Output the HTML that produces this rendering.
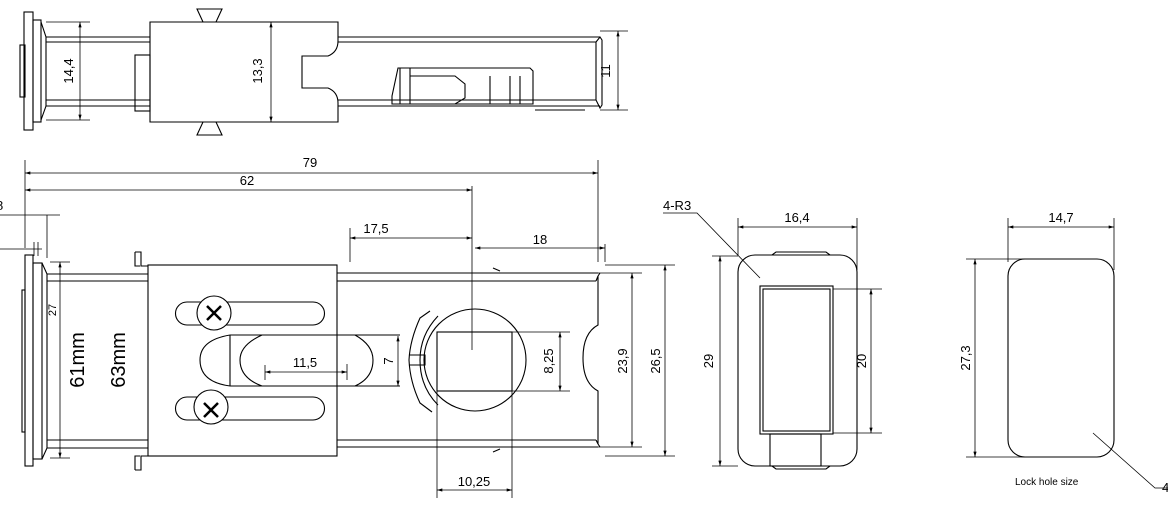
<!DOCTYPE html>
<html><head><meta charset="utf-8"><style>
html,body{margin:0;padding:0;background:#fff}
svg{display:block}
text{font-family:"Liberation Sans",sans-serif;fill:#000}
</style></head><body>
<svg width="1168" height="528" viewBox="0 0 1168 528" xmlns="http://www.w3.org/2000/svg">
<defs>
<marker id="a" viewBox="0 0 10 6" refX="10" refY="3" markerWidth="8" markerHeight="4" orient="auto-start-reverse"><path d="M0,0L10,3L0,6z" fill="#000"/></marker>
</defs>
<g fill="none" stroke="#000" stroke-width="1.1">
<!-- TOP VIEW -->
<rect x="24" y="12" width="9" height="118"/>
<rect x="33" y="20" width="8" height="102"/>
<rect x="20" y="45" width="5" height="52"/>
<path d="M41,22 L46,37 L46,106 L41,120"/>
<line x1="46" y1="37" x2="150" y2="37"/><line x1="46" y1="42" x2="150" y2="42"/>
<line x1="46" y1="100" x2="150" y2="100"/><line x1="46" y1="106" x2="150" y2="106"/>
<rect x="135" y="55" width="15" height="56"/>
<path d="M150,22 H338 V41 Q338,52 328,56 H302 V88 H328 Q338,92 338,103 V122 H150 Z"/>
<path d="M197,9 H222 L216,22 H203 Z"/><path d="M203,122 H216 L222,135 H197 Z"/>
<line x1="338" y1="37" x2="600" y2="37"/><line x1="338" y1="42" x2="596" y2="42"/>
<line x1="338" y1="106" x2="600" y2="106"/><line x1="338" y1="100" x2="596" y2="100"/>
<path d="M596,42 L600,37 L602,40 V105 L600,108 L596,100 Z"/>
<path d="M392,96 L398,68 H530 L533,71 V104 H392 Z"/>
<path d="M400,68 V104 M410,68 V104 M410,76 H455 L465,84 V98 L455,104"/>
<path d="M490,76 V104 M510,76 V104 M520,76 V104"/>
<line x1="535" y1="110" x2="585" y2="110"/>
<!-- top dims -->
<line x1="46" y1="22" x2="90" y2="22" stroke-width=".8"/><line x1="46" y1="120" x2="90" y2="120" stroke-width=".8"/>
<line x1="80" y1="22" x2="80" y2="120" marker-start="url(#a)" marker-end="url(#a)" stroke-width=".8"/>
<line x1="271" y1="22" x2="271" y2="122" marker-start="url(#a)" marker-end="url(#a)" stroke-width=".8"/>
<line x1="600" y1="31" x2="628" y2="31" stroke-width=".8"/><line x1="600" y1="110" x2="628" y2="110" stroke-width=".8"/>
<line x1="618" y1="31" x2="618" y2="110" marker-start="url(#a)" marker-end="url(#a)" stroke-width=".8"/>

<!-- MAIN VIEW dims -->
<g stroke-width=".8">
<line x1="25" y1="160" x2="25" y2="248"/>
<line x1="598" y1="160" x2="598" y2="262"/>
<line x1="472" y1="186" x2="472" y2="350"/>
<line x1="605" y1="244" x2="605" y2="262"/>
<line x1="47" y1="215" x2="47" y2="258"/>
<line x1="350" y1="228" x2="350" y2="262"/>
<line x1="25" y1="173" x2="598" y2="173" marker-start="url(#a)" marker-end="url(#a)"/>
<line x1="25" y1="190" x2="472" y2="190" marker-start="url(#a)" marker-end="url(#a)"/>
<line x1="0" y1="215" x2="60" y2="215"/>
<line x1="350" y1="238" x2="472" y2="238" marker-start="url(#a)" marker-end="url(#a)"/>
<line x1="475" y1="248" x2="605" y2="248" marker-start="url(#a)" marker-end="url(#a)"/>
<line x1="0" y1="249" x2="42" y2="249"/>
<line x1="34" y1="242" x2="34" y2="256"/><line x1="38" y1="242" x2="38" y2="256"/>
<line x1="605" y1="265" x2="675" y2="265"/><line x1="605" y1="456" x2="675" y2="456"/>
<line x1="598" y1="273" x2="642" y2="273"/><line x1="598" y1="447" x2="642" y2="447"/>
<line x1="665" y1="265" x2="665" y2="456" marker-start="url(#a)" marker-end="url(#a)"/>
<line x1="632" y1="273" x2="632" y2="447" marker-start="url(#a)" marker-end="url(#a)"/>
<line x1="437" y1="332" x2="570" y2="332"/><line x1="437" y1="391" x2="570" y2="391"/>
<line x1="560" y1="332" x2="560" y2="391" marker-start="url(#a)" marker-end="url(#a)"/>
<line x1="398" y1="336" x2="398" y2="386" marker-start="url(#a)" marker-end="url(#a)"/>
<line x1="437" y1="332" x2="437" y2="498"/><line x1="512" y1="332" x2="512" y2="498"/>
<line x1="437" y1="490" x2="512" y2="490" marker-start="url(#a)" marker-end="url(#a)"/>
<line x1="265" y1="372" x2="347" y2="372" marker-start="url(#a)" marker-end="url(#a)"/>
<line x1="265" y1="365" x2="265" y2="380"/><line x1="347" y1="364" x2="347" y2="380"/>
<line x1="50" y1="262" x2="70" y2="262"/><line x1="50" y1="458" x2="70" y2="458"/>
<line x1="60" y1="262" x2="60" y2="458" marker-start="url(#a)" marker-end="url(#a)"/>
</g>
<!-- MAIN VIEW part -->
<rect x="25" y="255" width="8" height="211"/>
<rect x="33" y="263" width="9" height="196"/>
<rect x="22" y="290" width="3" height="142"/>
<path d="M42,263 L47,274 V448 L42,459"/>
<line x1="47" y1="274" x2="148" y2="274"/><line x1="47" y1="281" x2="148" y2="281"/>
<line x1="47" y1="440" x2="148" y2="440"/><line x1="47" y1="448" x2="148" y2="448"/>
<path d="M135,252 h6 v14 h7 M135,252 v14 h5"/>
<path d="M135,470 h6 v-14 h7 M135,470 v-14 h5"/>
<rect x="148" y="265" width="189" height="191"/>
<line x1="337" y1="273" x2="598" y2="273"/><line x1="337" y1="281" x2="596" y2="281"/>
<line x1="337" y1="440" x2="596" y2="440"/><line x1="337" y1="447" x2="598" y2="447"/>
<path d="M596,281 L598,276 V325 Q583,333 583,358 Q583,383 598,391 V444 L596,440"/>
<path d="M598,276 L600,273 M598,444 L600,447"/>
<path d="M187,302 H313 A11.5,11.5 0 0 1 313,325 H187 A11.5,11.5 0 0 1 187,302 Z"/>
<path d="M187,397 H313 A11.5,11.5 0 0 1 313,420 H187 A11.5,11.5 0 0 1 187,397 Z"/>
<circle cx="214" cy="313" r="17" fill="#fff"/><circle cx="211" cy="407" r="17" fill="#fff"/>
<path d="M207,306 L221,320 M221,306 L207,320 M204,403 L218,417 M218,403 L204,417" stroke-width="2.5"/>
<path d="M230,335 H400 M230,386 H400 M230,335 Q200,340 200,360 Q200,382 230,386 M230,335 V386"/>
<path d="M262,335 Q240,345 240,360 Q240,378 262,386"/>
<path d="M355,335 Q373,345 373,360 Q373,378 355,386"/>
<circle cx="475" cy="360" r="51"/>
<path d="M430,311 L420,318 Q410,340 409,360 Q410,382 420,403 L432,412"/>
<path d="M438,316 Q420,335 420,360 Q420,387 438,405"/>
<path d="M409,355 H425 V365 H409"/>
<rect x="437" y="332" width="75" height="59"/>
<path d="M493,268 l7,3 M493,452 l7,-3"/>

<!-- FRONT VIEW -->
<rect x="738" y="255" width="119" height="211" rx="17"/>
<rect x="760" y="286" width="73" height="148"/>
<rect x="763" y="289" width="67" height="142"/>
<rect x="770" y="434" width="51" height="32"/>
<path d="M772,255 l4,-3 h50 l4,3"/><path d="M772,466 l4,3 h50 l4,-3"/>
<g stroke-width=".8">
<line x1="738" y1="218" x2="738" y2="255"/><line x1="857" y1="218" x2="857" y2="270"/>
<line x1="738" y1="227" x2="857" y2="227" marker-start="url(#a)" marker-end="url(#a)"/>
<line x1="712" y1="256" x2="738" y2="256"/><line x1="712" y1="466" x2="738" y2="466"/>
<line x1="720" y1="256" x2="720" y2="466" marker-start="url(#a)" marker-end="url(#a)"/>
<line x1="833" y1="289" x2="882" y2="289"/><line x1="833" y1="433" x2="882" y2="433"/>
<line x1="871" y1="289" x2="871" y2="433" marker-start="url(#a)" marker-end="url(#a)"/>
<path d="M663,213 H697 L760,278"/>
<line x1="1008" y1="218" x2="1008" y2="262"/><line x1="1114" y1="218" x2="1114" y2="270"/>
<line x1="1008" y1="227" x2="1114" y2="227" marker-start="url(#a)" marker-end="url(#a)"/>
<line x1="966" y1="259" x2="1035" y2="259"/><line x1="966" y1="457" x2="1035" y2="457"/>
<line x1="975" y1="259" x2="975" y2="457" marker-start="url(#a)" marker-end="url(#a)"/>
<path d="M1093,433 L1155,488 H1168"/>
</g>
<rect x="1008" y="259" width="106" height="198" rx="17"/>
</g>
<g font-size="13">
<text x="310" y="167" text-anchor="middle">79</text>
<text x="247" y="185" text-anchor="middle">62</text>
<text x="-4" y="210">8</text>
<text x="376" y="233" text-anchor="middle">17,5</text>
<text x="540" y="244" text-anchor="middle">18</text>
<text x="305" y="367" text-anchor="middle">11,5</text>
<text x="474" y="486" text-anchor="middle">10,25</text>
<text x="797" y="222" text-anchor="middle">16,4</text>
<text x="1061" y="222" text-anchor="middle">14,7</text>
<text x="663" y="210">4-R3</text>
<text x="1162" y="492">4</text>
<text transform="translate(73,71) rotate(-90)" text-anchor="middle">14,4</text>
<text transform="translate(262,71) rotate(-90)" text-anchor="middle">13,3</text>
<text transform="translate(610,71) rotate(-90)" text-anchor="middle">11</text>
<text transform="translate(393,361) rotate(-90)" text-anchor="middle">7</text>
<text transform="translate(553,361) rotate(-90)" text-anchor="middle">8,25</text>
<text transform="translate(627,361) rotate(-90)" text-anchor="middle">23,9</text>
<text transform="translate(660,361) rotate(-90)" text-anchor="middle">26,5</text>
<text transform="translate(713,361) rotate(-90)" text-anchor="middle">29</text>
<text transform="translate(866,361) rotate(-90)" text-anchor="middle">20</text>
<text transform="translate(970,358) rotate(-90)" text-anchor="middle">27,3</text>
<text transform="translate(56,310) rotate(-90)" text-anchor="middle" font-size="11">27</text>
<text transform="translate(84,360) rotate(-90)" text-anchor="middle" font-size="20">61mm</text>
<text transform="translate(125,360) rotate(-90)" text-anchor="middle" font-size="20">63mm</text>
<text x="1015" y="485" font-size="10">Lock hole size</text>
</g>
</svg>
</body></html>
